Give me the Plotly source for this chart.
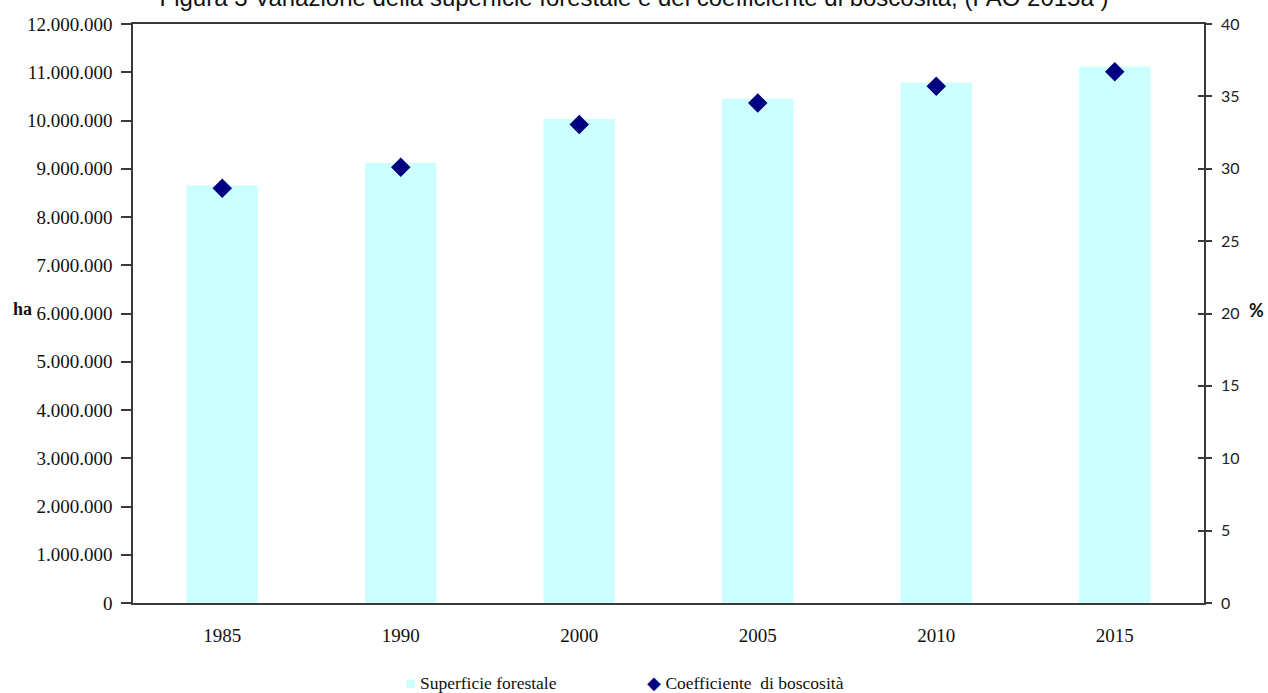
import plotly.graph_objects as go

# Forest surface (ha) and forest coverage coefficient (%) by year
anni = ["1985", "1990", "2000", "2005", "2010", "2015"]
superficie_ha = [8660000, 9120000, 10030000, 10450000, 10780000, 11120000]
coefficiente_pct = [28.65, 30.1, 33.05, 34.55, 35.7, 36.7]

left_ticks = [0, 1000000, 2000000, 3000000, 4000000, 5000000, 6000000,
              7000000, 8000000, 9000000, 10000000, 11000000, 12000000]
left_labels = ["0", "1.000.000", "2.000.000", "3.000.000", "4.000.000", "5.000.000",
               "6.000.000", "7.000.000", "8.000.000", "9.000.000", "10.000.000",
               "11.000.000", "12.000.000"]
right_ticks = [0, 5, 10, 15, 20, 25, 30, 35, 40]

serif = "Liberation Serif, Times New Roman, serif"
sans = "Lato, Carlito, Calibri, sans-serif"
axis_col = "#3a3a3a"
bar_col = "#CCFFFF"
dot_col = "#000080"

W, H = 1268, 693
ML, MR, MT, MB = 133, 64, 24, 90
PW, PH = W - ML - MR, H - MT - MB


def px_x(x):
    return (x - ML) / PW


def px_y(y):
    return (H - MB - y) / PH


fig = go.Figure()
fig.add_trace(go.Bar(
    x=anni, y=superficie_ha, name="Superficie forestale",
    marker=dict(color=bar_col, line=dict(width=0)),
    width=0.40, yaxis="y", showlegend=False, hoverinfo="x+y",
))
fig.add_trace(go.Scatter(
    x=anni, y=coefficiente_pct, name="Coefficiente  di boscosità",
    mode="markers", yaxis="y2", showlegend=False,
    marker=dict(symbol="diamond", size=15, color=dot_col),
))
# invisible copy that carries the inner half of the right-hand ticks
fig.add_trace(go.Scatter(
    x=anni, y=coefficiente_pct, mode="markers", yaxis="y3",
    marker=dict(opacity=0), showlegend=False, hoverinfo="skip",
))

fig.update_layout(
    width=W, height=H,
    margin=dict(l=ML, r=MR, t=MT, b=MB, autoexpand=False),
    paper_bgcolor="white", plot_bgcolor="white",
    font=dict(family=serif, size=19, color="#111111"),
    title=dict(
        text="Figura 3 Variazione della superficie forestale e del coefficiente di boscosità, (FAO 2015a )",
        font=dict(family="Liberation Sans, Arial, sans-serif", size=24, color="#111111"),
        x=0.5, xanchor="center", xref="container",
        y=1 - 6 / H, yanchor="bottom", yref="container",
    ),
    showlegend=False,
    xaxis=dict(
        type="category", showgrid=False, zeroline=False,
        showline=True, linecolor=axis_col, linewidth=1.5, mirror=True,
        ticks="", ticklabelstandoff=14,
    ),
    yaxis=dict(
        range=[0, 12000000], tickvals=left_ticks, ticktext=left_labels,
        showgrid=False, zeroline=False, showline=True, linecolor=axis_col,
        linewidth=1.5, ticks="outside", ticklen=10, tickcolor=axis_col,
        tickwidth=1.5, ticklabelstandoff=5,
    ),
    yaxis2=dict(
        range=[0, 40], tickvals=right_ticks, overlaying="y", side="right",
        showgrid=False, zeroline=False, showline=True, linecolor=axis_col,
        linewidth=1.5, ticks="outside", ticklen=6, tickcolor=axis_col,
        tickwidth=1.5, ticklabelstandoff=6,
        tickfont=dict(family=sans, size=16, color="#222222"),
    ),
    yaxis3=dict(
        range=[0, 40], tickvals=right_ticks, overlaying="y", side="right",
        anchor="x", showgrid=False, zeroline=False, showline=False,
        ticks="inside", ticklen=6, tickcolor=axis_col, tickwidth=1.5,
        showticklabels=False,
    ),
    annotations=[
        dict(text="<b>ha</b>", xref="paper", yref="paper", x=px_x(22), y=px_y(309),
             xanchor="center", yanchor="middle", showarrow=False,
             font=dict(family=serif, size=18)),
        dict(text="<b>%</b>", xref="paper", yref="paper", x=px_x(1256), y=px_y(310),
             xanchor="center", yanchor="middle", showarrow=False,
             font=dict(family=sans, size=18, color="#111111")),
        # legend entries
        dict(text=f"<span style='color:{bar_col}'>■</span> Superficie forestale",
             xref="paper", yref="paper", x=px_x(403), y=px_y(683),
             xanchor="left", yanchor="middle", showarrow=False,
             font=dict(family=serif, size=17.5)),
        dict(text=f"<span style='color:{dot_col}'>◆</span> Coefficiente&nbsp; di boscosità",
             xref="paper", yref="paper", x=px_x(645), y=px_y(683),
             xanchor="left", yanchor="middle", showarrow=False,
             font=dict(family=serif, size=17.5)),
    ],
)

fig.write_html("out.html")
